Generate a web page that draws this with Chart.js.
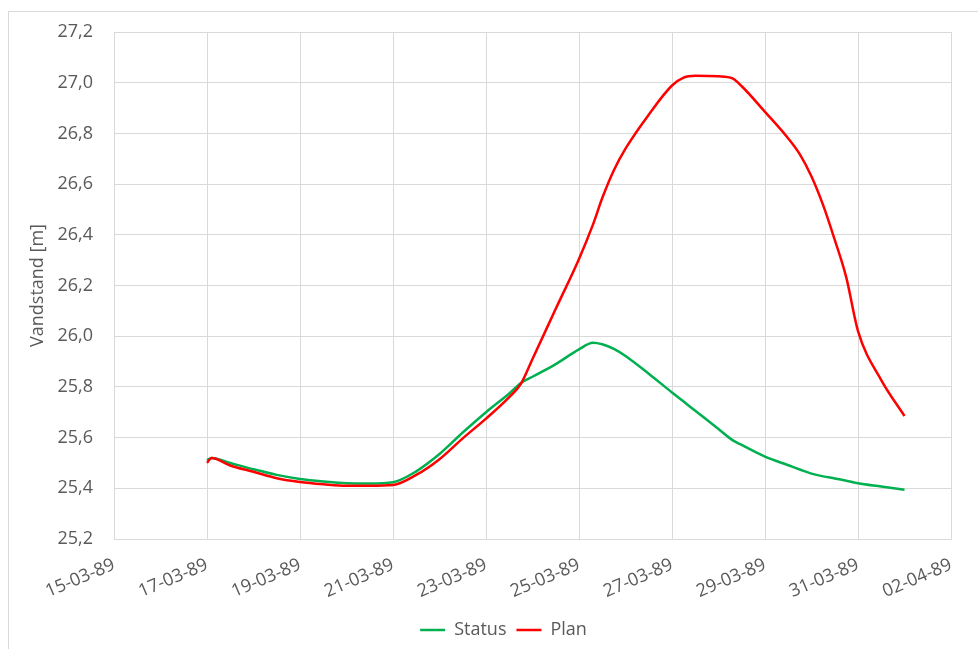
<!DOCTYPE html>
<html>
<head>
<meta charset="utf-8">
<script src="https://cdn.jsdelivr.net/npm/chart.js@4"></script>
<style>
  html, body { margin: 0; padding: 0; background: #ffffff; }
  #wrap { width: 978px; height: 649px; position: relative; }
</style>
</head>
<body>
<div id="wrap"><canvas id="chart" width="978" height="649"></canvas></div>
<script>
// Time in days after 15-03-1989 00:00
const times = [2.0, 2.1, 2.5, 3, 3.5, 4, 4.5, 5, 5.5, 6, 6.5, 7, 7.5, 8, 8.5, 8.75, 9, 9.5, 10, 10.3, 10.5, 10.75,
  11, 11.5, 12, 12.25, 12.5, 13, 13.3, 13.5, 14, 14.5, 14.75, 15, 15.25, 15.5, 15.75, 16, 16.5, 17];

// Water level, current situation [m]
const statusLevels = [25.51, 25.52, 25.50, 25.475, 25.453, 25.437, 25.427, 25.42, 25.419, 25.424, 25.467,
  25.535, 25.62, 25.70, 25.774, 25.815, 25.84, 25.89, 25.948, 25.974, 25.968, 25.95,
  25.922, 25.852, 25.778, 25.742, 25.706, 25.634, 25.59, 25.571, 25.525, 25.491, 25.474, 25.458, 25.447, 25.439, 25.430, 25.420, 25.407, 25.394];

// Water level, planned situation [m]
const planLevels = [25.50, 25.52, 25.49, 25.465, 25.44, 25.425, 25.416, 25.41, 25.41, 25.413, 25.453,
  25.515, 25.597, 25.675, 25.76, 25.812, 25.91, 26.108, 26.305, 26.44, 26.545, 26.655,
  26.74, 26.874, 26.989, 27.02, 27.027, 27.025, 27.017, 26.986, 26.885, 26.78, 26.717, 26.63, 26.517, 26.38, 26.23, 26.02, 25.827, 25.685];

const seriesNames = ['Status', 'Plan'];
const seriesColors = ['#00B050', '#FF0000'];

const yMin = 25.2, yMax = 27.2, yStep = 0.2;
const xMin = 0, xMax = 18, xStep = 2;
const startDate = Date.UTC(1989, 2, 15);

const FONT = '"Open Sans", sans-serif';
const TEXT = '#595959';
const GRID = '#d9d9d9';

function dayLabel(d) {
  const dt = new Date(startDate + Math.round(d) * 86400000);
  const dd = String(dt.getUTCDate()).padStart(2, '0');
  const mm = String(dt.getUTCMonth() + 1).padStart(2, '0');
  const yy = String(dt.getUTCFullYear()).slice(2);
  return dd + '-' + mm + '-' + yy;
}

function toPoints(vals) {
  return times.map((t, i) => ({ x: t, y: vals[i] }));
}

// Light frame around the whole chart, and legend nudged to the right
const framePlugin = {
  id: 'frame',
  afterLayout(chart) {
    const lg = chart.legend;
    if (lg) { lg.left += 24; lg.right += 24; }
  },
  beforeDraw(chart) {
    const ctx = chart.ctx;
    ctx.save();
    ctx.fillStyle = '#ffffff';
    ctx.fillRect(0, 0, chart.width, chart.height);
    ctx.strokeStyle = '#d9d9d9';
    ctx.lineWidth = 1;
    ctx.strokeRect(8.5, 11.5, chart.width + 20, chart.height + 20);
    ctx.restore();
  }
};

new Chart(document.getElementById('chart'), {
  type: 'line',
  data: {
    datasets: [
      {
        label: seriesNames[0],
        data: toPoints(statusLevels),
        borderColor: seriesColors[0],
        backgroundColor: seriesColors[0],
        borderWidth: 2.5,
        pointRadius: 0,
        pointStyle: 'line',
        cubicInterpolationMode: 'monotone',
        order: 2
      },
      {
        label: seriesNames[1],
        data: toPoints(planLevels),
        borderColor: seriesColors[1],
        backgroundColor: seriesColors[1],
        borderWidth: 2.5,
        pointRadius: 0,
        pointStyle: 'line',
        cubicInterpolationMode: 'monotone',
        order: 1
      }
    ]
  },
  options: {
    responsive: false,
    animation: false,
    events: [],
    layout: { padding: { left: 8, right: 27, top: 32, bottom: 0 } },
    plugins: {
      legend: {
        position: 'bottom',
        labels: {
          usePointStyle: true,
          pointStyleWidth: 25,
          color: TEXT,
          font: { family: FONT, size: 18 },
          padding: 10,
          sort: (a, b) => a.datasetIndex - b.datasetIndex
        }
      },
      tooltip: { enabled: false }
    },
    scales: {
      x: {
        type: 'linear',
        min: xMin,
        max: xMax,
        ticks: {
          stepSize: xStep,
          autoSkip: false,
          minRotation: 23,
          maxRotation: 23,
          padding: 15,
          color: TEXT,
          font: { family: FONT, size: 18 },
          callback: (v) => dayLabel(v)
        },
        grid: { color: GRID, lineWidth: 1, drawTicks: false },
        border: { color: GRID },
        afterFit: (s) => { s.height = 72; }
      },
      y: {
        min: yMin,
        max: yMax,
        ticks: {
          stepSize: yStep,
          padding: 21,
          color: TEXT,
          font: { family: FONT, size: 18 },
          callback: (v) => Number(v).toFixed(1).replace('.', ',')
        },
        grid: { color: GRID, lineWidth: 1, drawTicks: false },
        border: { color: GRID },
        title: {
          display: true,
          text: 'Vandstand [m]',
          color: TEXT,
          font: { family: FONT, size: 18 },
          padding: { top: 19, bottom: 0 }
        },
        afterFit: (s) => { s.width = 106; }
      }
    }
  },
  plugins: [framePlugin]
});
</script>
</body>
</html>
